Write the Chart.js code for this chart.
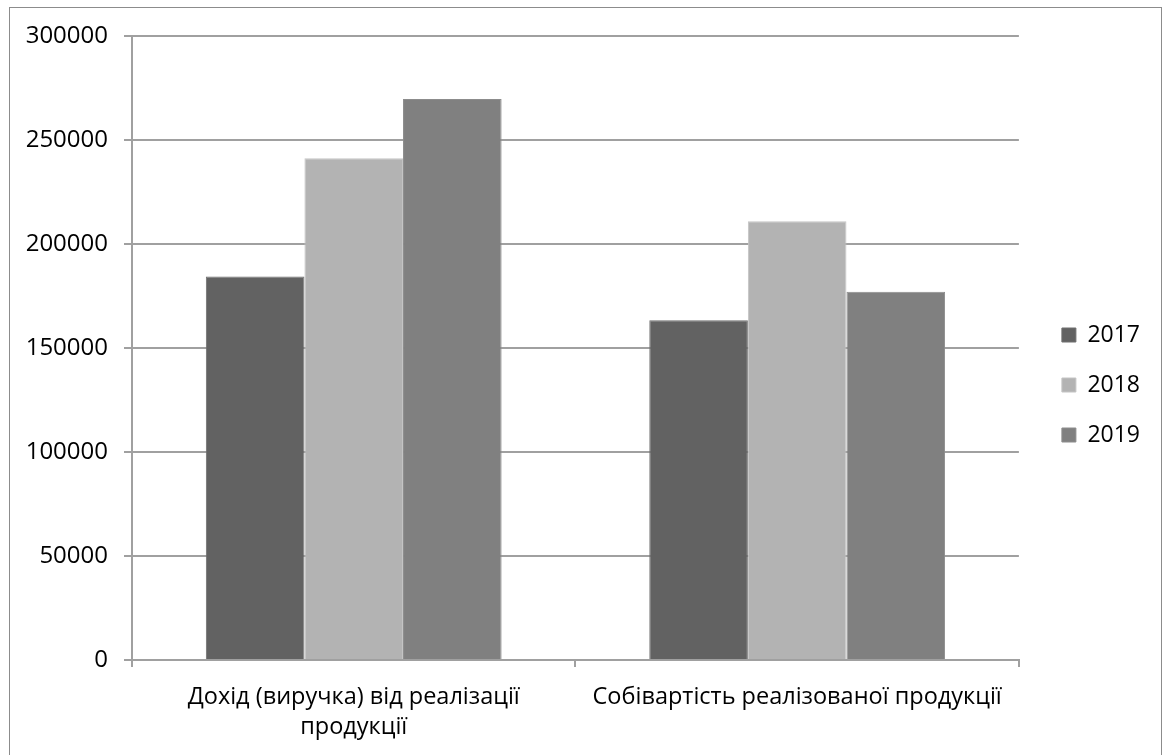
<!DOCTYPE html>
<html>
<head>
<meta charset="utf-8">
<script src="https://cdn.jsdelivr.net/npm/chart.js@4/dist/chart.umd.min.js"></script>
<style>
  html, body { margin: 0; padding: 0; background: #ffffff; }
  #wrap { position: relative; width: 1162px; height: 755px; overflow: hidden; }
  #frame { position: absolute; left: 9px; top: 7px; width: 1151px; height: 800px;
           border: 1px solid #8c8c8c; pointer-events: none; }
  canvas { position: absolute; left: 0; top: 0; }
</style>
</head>
<body>
<div id="wrap">
  <canvas id="chart" width="1162" height="755"></canvas>
  <div id="frame"></div>
</div>
<script>
// Categories (two-line label for the first one)
const categories = [
  ['Дохід (виручка) від реалізації', 'продукції'],
  'Собівартість реалізованої продукції'
];
const years = ['2017', '2018', '2019'];
const values2017 = [184400, 163300];
const values2018 = [241200, 210900];
const values2019 = [269700, 177100];
const yTicks = [0, 50000, 100000, 150000, 200000, 250000, 300000];

const fillColors = ['#626262', '#b3b3b3', '#808080'];
const edgeColors = ['#6e6e6e', '#c4c4c4', '#8c8c8c'];
const seriesValues = [values2017, values2018, values2019];

const FONT = "'Open Sans', 'Noto Sans', sans-serif";
const gridColor = '#a0a0a0';

// Empty spacer axis: reserves room without drawing anything
const spacer = (position, size) => ({
  position,
  display: true,
  grid: { display: false, drawOnChartArea: false },
  border: { display: false },
  ticks: { display: false },
  afterFit(scale) {
    if (scale.isHorizontal()) scale.height = size; else scale.width = size;
  }
});

const chart = new Chart(document.getElementById('chart'), {
  type: 'bar',
  data: {
    labels: categories,
    datasets: years.map((y, i) => ({
      label: y,
      data: seriesValues[i],
      backgroundColor: fillColors[i],
      borderColor: edgeColors[i],
      borderWidth: 1,
      categoryPercentage: 0.667,
      barPercentage: 1.0,
      xAxisID: 'x',
      yAxisID: 'y'
    }))
  },
  options: {
    responsive: false,
    animation: false,
    layout: { padding: { left: 10, top: 23, right: 12, bottom: 8 } },
    plugins: {
      tooltip: { enabled: false },
      legend: {
        position: 'right',
        labels: {
          boxWidth: 14,
          boxHeight: 14,
          padding: 27,
          color: '#000000',
          font: { family: FONT, size: 23 }
        }
      }
    },
    scales: {
      x: {
        grid: {
          drawOnChartArea: false,
          drawTicks: true,
          tickLength: 7,
          color: gridColor,
          lineWidth: 2
        },
        border: { color: gridColor, width: 2 },
        ticks: {
          color: '#000000',
          padding: 15,
          maxRotation: 0,
          autoSkip: false,
          font: { family: FONT, size: 23.5, lineHeight: 30 / 23.5 }
        },
        afterFit(scale) { scale.height = 87; }
      },
      y: {
        min: 0,
        max: 300000,
        afterBuildTicks(scale) { scale.ticks = yTicks.map(v => ({ value: v })); },
        grid: { color: gridColor, lineWidth: 2, tickLength: 8 },
        border: { color: gridColor, width: 2 },
        ticks: {
          color: '#000000',
          padding: 16,
          font: { family: FONT, size: 24 },
          callback: (v) => String(v)
        },
        afterFit(scale) { scale.width = 122; }
      },
      gapTop: spacer('top', 13),
      gapRight: spacer('right', 16)
    }
  }
});
</script>
</body>
</html>
